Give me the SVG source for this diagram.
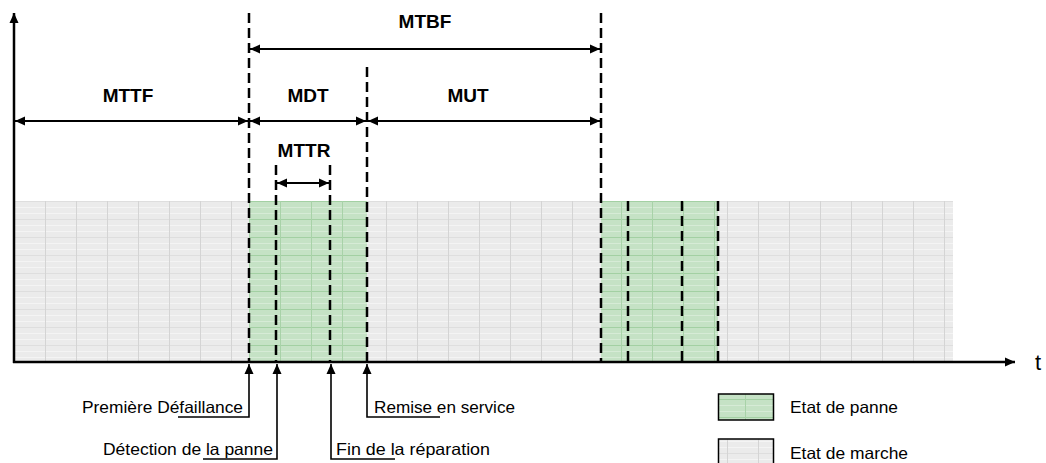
<svg xmlns="http://www.w3.org/2000/svg" width="1046" height="463" viewBox="0 0 1046 463">
  <style>
    .lbl { font-family: "Liberation Sans", Arial, sans-serif; font-weight: bold; font-size: 19px; fill: #000; text-anchor: middle; }
    .txt { font-family: "Liberation Sans", Arial, sans-serif; font-size: 16.5px; fill: #000; }
    .dash { stroke: #000; stroke-width: 2.5; stroke-dasharray: 10 5; fill: none; }
    .dim { stroke: #000; stroke-width: 2; fill: none; marker-start: url(#arrS); marker-end: url(#arrE); }
    .lead { stroke: #000; stroke-width: 1.6; fill: none; marker-start: url(#arrS); }
    .axis { stroke: #000; stroke-width: 2.5; fill: none; marker-end: url(#arrE); }
  </style>
  <defs>
    <marker id="arrE" viewBox="0 0 10 10" refX="10" refY="5" markerWidth="10" markerHeight="10" markerUnits="userSpaceOnUse" orient="auto">
      <path d="M0,0.5 L10,5 L0,9.5 Z" fill="#000"/>
    </marker>
    <marker id="arrS" viewBox="0 0 10 10" refX="0" refY="5" markerWidth="10" markerHeight="10" markerUnits="userSpaceOnUse" orient="auto">
      <path d="M10,0.5 L0,5 L10,9.5 Z" fill="#000"/>
    </marker>
    <pattern id="grey" patternUnits="userSpaceOnUse" x="14" y="201" width="31" height="18">
      <rect width="31" height="18" fill="#ebebeb"/>
      <rect x="0" y="0" width="31" height="1" fill="#dedede"/>
      <rect x="0" y="6" width="31" height="1" fill="#f4f4f4"/>
      <rect x="0" y="12" width="31" height="1" fill="#f4f4f4"/>
      <rect x="0" y="0" width="1" height="18" fill="#d4d4d4"/>
    </pattern>
    <pattern id="green" patternUnits="userSpaceOnUse" x="249" y="201" width="31" height="18">
      <rect width="31" height="18" fill="#c5e2c5"/>
      <rect x="0" y="0" width="31" height="1" fill="#a3d0a3"/>
      <rect x="0" y="6" width="31" height="1" fill="#d6ebd6"/>
      <rect x="0" y="12" width="31" height="1" fill="#d6ebd6"/>
      <rect x="0" y="0" width="1" height="18" fill="#a8d2a8"/>
    </pattern>
  </defs>

  <g id="background">
    <rect x="15" y="201" width="938" height="161" fill="url(#grey)"/>
    <rect x="249" y="201" width="118" height="161" fill="url(#green)"/>
    <rect x="601" y="201" width="117" height="161" fill="url(#green)"/>
  </g>

  <g id="axes">
    <line class="axis" x1="14" y1="363" x2="14" y2="13"/>
    <line class="axis" x1="13" y1="362" x2="1015" y2="362"/>
    <text x="1035" y="370" font-family="Liberation Sans, Arial, sans-serif" font-size="22">t</text>
  </g>

  <g id="markers">
    <line class="dash" x1="249" y1="13" x2="249" y2="362"/>
    <line class="dash" x1="367" y1="67" x2="367" y2="362"/>
    <line class="dash" x1="276" y1="165" x2="276" y2="362"/>
    <line class="dash" x1="330" y1="165" x2="330" y2="362"/>
    <line class="dash" x1="601" y1="13" x2="601" y2="362"/>
    <line class="dash" x1="628" y1="201" x2="628" y2="362"/>
    <line class="dash" x1="682" y1="201" x2="682" y2="362"/>
    <line class="dash" x1="718" y1="201" x2="718" y2="362"/>
  </g>

  <g id="connectors">
    <line class="dim" x1="250" y1="49" x2="600" y2="49"/>
    <line class="dim" x1="15" y1="121" x2="248" y2="121"/>
    <line class="dim" x1="250" y1="121" x2="366" y2="121"/>
    <line class="dim" x1="368" y1="121" x2="600" y2="121"/>
    <line class="dim" x1="277" y1="183" x2="329" y2="183"/>
    <polyline class="lead" points="249,364 249,417 178,417"/>
    <polyline class="lead" points="277,364 277,459 203,459"/>
    <polyline class="lead" points="331,364 331,459 395,459"/>
    <polyline class="lead" points="367,364 367,417 440,417"/>
  </g>

  <g id="label-mtbf"><text class="lbl" x="425" y="28">MTBF</text></g>
  <g id="label-mttf"><text class="lbl" x="128" y="102">MTTF</text></g>
  <g id="label-mdt"><text class="lbl" x="308" y="102">MDT</text></g>
  <g id="label-mut"><text class="lbl" x="468" y="102">MUT</text></g>
  <g id="label-mttr"><text class="lbl" x="304" y="157">MTTR</text></g>

  <g id="event-premiere"><text class="txt" x="82" y="413" textLength="161" lengthAdjust="spacingAndGlyphs">Première Défaillance</text></g>
  <g id="event-detection"><text class="txt" x="103" y="455" textLength="170" lengthAdjust="spacingAndGlyphs">Détection de la panne</text></g>
  <g id="event-fin"><text class="txt" x="336" y="455" textLength="154" lengthAdjust="spacingAndGlyphs">Fin de la réparation</text></g>
  <g id="event-remise"><text class="txt" x="374" y="413" textLength="141" lengthAdjust="spacingAndGlyphs">Remise en service</text></g>

  <g id="legend-panne">
    <rect x="718.5" y="394" width="55" height="26" fill="url(#green)" stroke="#000" stroke-width="1.5"/>
    <text class="txt" x="790" y="413" textLength="108" lengthAdjust="spacingAndGlyphs">Etat de panne</text>
  </g>
  <g id="legend-marche">
    <rect x="718.5" y="439" width="55" height="26" fill="url(#grey)" stroke="#000" stroke-width="1.5"/>
    <text class="txt" x="790" y="459" textLength="118" lengthAdjust="spacingAndGlyphs">Etat de marche</text>
  </g>
</svg>
